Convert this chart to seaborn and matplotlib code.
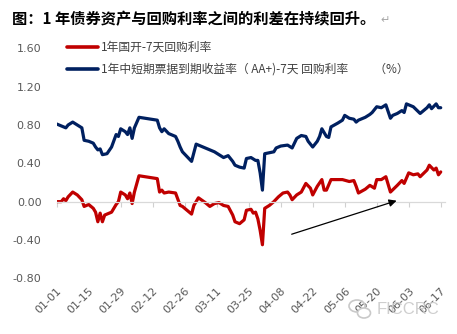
import matplotlib
matplotlib.use("Agg")
import matplotlib.pyplot as plt
import matplotlib.dates as mdates
from matplotlib.patches import Ellipse
import pandas as pd
import seaborn as sns

YEAR = 2016

# 1年国开 - 7天回购 spread (%)
red_dates = [
    "01-01", "01-03", "01-04", "01-05", "01-06", "01-08", "01-10", "01-12", "01-13", "01-15",
    "01-17", "01-18", "01-19", "01-20", "01-21", "01-22", "01-23", "01-25", "01-27", "01-28",
    "01-29", "01-31", "02-01", "02-02", "02-03", "02-04", "02-06", "02-14", "02-15", "02-16",
    "02-17", "02-19", "02-22", "02-24", "02-25", "02-27", "02-29", "03-01", "03-03", "03-06",
    "03-08", "03-10", "03-12", "03-14", "03-16", "03-18", "03-19", "03-21", "03-23", "03-24",
    "03-26", "03-27", "03-28", "03-29", "03-30", "03-31", "04-01", "04-03", "04-05", "04-07",
    "04-09", "04-11", "04-12", "04-13", "04-15", "04-17", "04-19", "04-21", "04-22", "04-24",
    "04-26", "04-27", "04-28", "04-30", "05-03", "05-05", "05-08", "05-10", "05-11", "05-12",
    "05-15", "05-17", "05-19", "05-20", "05-22", "05-24", "05-26", "05-29", "05-31", "06-01",
    "06-03", "06-05", "06-07", "06-08", "06-11", "06-12", "06-14", "06-15", "06-16", "06-17",
]
red_values = [
    0.00, 0.00, 0.03, 0.01, 0.05, 0.10, 0.07, 0.02, -0.05, -0.03,
    -0.07, -0.11, -0.21, -0.12, -0.21, -0.14, -0.13, -0.11, -0.03, 0.00,
    0.10, 0.07, 0.03, 0.09, -0.02, 0.10, 0.27, 0.24, 0.10, 0.12,
    0.09, 0.10, 0.09, -0.04, -0.05, -0.09, -0.13, -0.04, 0.04, -0.01,
    -0.05, -0.02, -0.01, -0.04, -0.05, -0.14, -0.21, -0.23, -0.19, -0.09,
    -0.08, -0.12, -0.11, -0.18, -0.30, -0.45, -0.07, -0.04, 0.00, 0.05,
    0.09, 0.10, 0.07, 0.02, 0.07, 0.10, 0.19, 0.14, 0.07, 0.16,
    0.23, 0.12, 0.12, 0.23, 0.23, 0.23, 0.21, 0.22, 0.16, 0.09,
    0.13, 0.17, 0.14, 0.23, 0.23, 0.26, 0.10, 0.17, 0.22, 0.19,
    0.30, 0.28, 0.29, 0.26, 0.33, 0.38, 0.33, 0.35, 0.28, 0.31,
]

# 1年中短期票据(AA+)到期收益率 - 7天回购 spread (%)
blue_dates = [
    "01-01", "01-03", "01-05", "01-06", "01-08", "01-10", "01-12", "01-13", "01-15", "01-17",
    "01-18", "01-19", "01-20", "01-21", "01-23", "01-25", "01-27", "01-28", "01-29", "01-31",
    "02-01", "02-02", "02-03", "02-04", "02-06", "02-14", "02-15", "02-16", "02-17", "02-19",
    "02-20", "02-22", "02-23", "02-24", "02-25", "02-27", "02-29", "03-02", "03-04", "03-06",
    "03-08", "03-10", "03-12", "03-14", "03-16", "03-18", "03-19", "03-21", "03-23", "03-24",
    "03-26", "03-28", "03-29", "03-30", "03-31", "04-01", "04-03", "04-05", "04-06", "04-08",
    "04-11", "04-13", "04-15", "04-17", "04-19", "04-20", "04-22", "04-24", "04-25", "04-26",
    "04-28", "04-29", "04-30", "05-03", "05-05", "05-06", "05-08", "05-10", "05-11", "05-12",
    "05-15", "05-17", "05-18", "05-20", "05-22", "05-24", "05-26", "05-27", "05-29", "05-31",
    "06-01", "06-02", "06-05", "06-08", "06-11", "06-12", "06-13", "06-15", "06-16", "06-17",
]
blue_values = [
    0.81, 0.79, 0.77, 0.80, 0.83, 0.80, 0.77, 0.64, 0.63, 0.61,
    0.57, 0.54, 0.55, 0.49, 0.50, 0.57, 0.70, 0.68, 0.76, 0.73,
    0.70, 0.77, 0.66, 0.77, 0.88, 0.85, 0.77, 0.73, 0.76, 0.71,
    0.70, 0.68, 0.63, 0.57, 0.52, 0.47, 0.42, 0.60, 0.58, 0.56,
    0.54, 0.52, 0.49, 0.46, 0.48, 0.42, 0.38, 0.36, 0.35, 0.45,
    0.46, 0.43, 0.43, 0.30, 0.12, 0.50, 0.51, 0.52, 0.56, 0.58,
    0.59, 0.56, 0.66, 0.69, 0.68, 0.63, 0.57, 0.63, 0.68, 0.76,
    0.68, 0.67, 0.78, 0.82, 0.85, 0.90, 0.87, 0.86, 0.83, 0.85,
    0.88, 0.91, 0.93, 0.99, 0.98, 1.01, 0.87, 0.90, 0.92, 0.95,
    0.93, 1.02, 0.99, 0.92, 0.98, 1.01, 0.97, 1.02, 0.98, 0.98,
]

tick_labels = ["01-01", "01-15", "01-29", "02-12", "02-26", "03-11", "03-25",
               "04-08", "04-22", "05-06", "05-20", "06-03", "06-17"]
y_ticks = [-0.80, -0.40, 0.00, 0.40, 0.80, 1.20, 1.60]

series_names = ["1年国开-7天回购利率", "1年中短期票据到期收益率（ AA+)-7天 回购利率　　 （%）"]
series_colors = ["#C00000", "#002060"]
title_text = "图：1 年债券资产与回购利率之间的利差在持续回升。"


def to_dates(month_days):
    return pd.to_datetime([f"{YEAR}-{md}" for md in month_days])


df = pd.concat([
    pd.DataFrame({"date": to_dates(red_dates), "value": red_values, "series": series_names[0]}),
    pd.DataFrame({"date": to_dates(blue_dates), "value": blue_values, "series": series_names[1]}),
], ignore_index=True)

sns.set_theme(style="white")
plt.rcParams["font.family"] = ["Noto Sans CJK SC", "DejaVu Sans"]
plt.rcParams["axes.unicode_minus"] = False

W, H = 457, 334
fig = plt.figure(figsize=(W / 100, H / 100), dpi=100)
fig.patch.set_facecolor("white")

x0 = pd.Timestamp(f"{YEAR}-01-01")
ax = fig.add_axes([56.7 / W, 1 - 278.3 / H, (445.3 - 56.7) / W, (278.3 - 48.3) / H])
ax.set_facecolor("white")

sns.lineplot(data=df, x="date", y="value", hue="series", hue_order=series_names,
             palette=series_colors, linewidth=2.3, estimator=None, sort=False,
             ax=ax, legend=True)

# axes ranges and y ticks
ax.set_ylim(y_ticks[0], y_ticks[-1])
ax.set_yticks(y_ticks)
ax.set_yticklabels([f"{v:.2f}" for v in y_ticks])
ax.set_xlim(x0, x0 + pd.Timedelta(days=170))
ax.set_xlabel("")
ax.set_ylabel("")
ax.grid(False)
for side in ("left", "right", "top"):
    ax.spines[side].set_visible(False)

# category axis crosses at zero: light line with tick marks, labels kept at the bottom
tick_dates = to_dates(tick_labels)
tick_pos = mdates.date2num(tick_dates)
ax.spines["bottom"].set_position(("data", 0))
ax.spines["bottom"].set_color("#d9d9d9")
ax.spines["bottom"].set_linewidth(0.9)
ax.set_xticks(tick_pos)
ax.tick_params(axis="x", length=3.5, width=0.8, color="#d0d0d0", direction="out",
               labelbottom=False, bottom=True)
ax.tick_params(axis="y", length=0, pad=11, labelsize=8, labelcolor="#595959")
for lab in ax.get_yticklabels():
    lab.set_family(["DejaVu Sans"])

sec = ax.secondary_xaxis("bottom")
sec.set_xticks(tick_pos)
sec.set_xticklabels(tick_labels)
sec.tick_params(axis="x", length=0, pad=5, labelsize=8, labelcolor="#595959")
sec.spines["bottom"].set_visible(False)
for lab in sec.get_xticklabels():
    lab.set_rotation(45)
    lab.set_ha("right")
    lab.set_va("top")
    lab.set_rotation_mode("anchor")
    lab.set_family(["DejaVu Sans"])

# legend in the upper-left of the plot area
handles, labels = ax.get_legend_handles_labels()
leg = ax.legend(handles, labels, loc="upper left",
                bbox_to_anchor=(67 / W, 1 - 41 / H), bbox_transform=fig.transFigure,
                frameon=False, fontsize=8.5, handlelength=2.6, handletextpad=0.25,
                labelspacing=0.75, borderpad=0, borderaxespad=0)
for t in leg.get_texts():
    t.set_color("#404040")
for lh in leg.get_lines():
    lh.set_linewidth(2.6)

# trend arrow under the red series
ax.annotate("", xy=(x0 + pd.Timedelta(days=148.7), 0.01),
            xytext=(x0 + pd.Timedelta(days=102.8), -0.34),
            arrowprops=dict(arrowstyle="-|>", color="black", lw=0.9,
                            mutation_scale=11, shrinkA=0, shrinkB=0))

# title with a paragraph mark
title = fig.text(12 / W, 1 - 19 / H, title_text, fontsize=11, fontweight="bold",
                 color="black", va="center", ha="left")
ax.annotate("↵", xy=(1, 0.45), xycoords=title, xytext=(4, 0), textcoords="offset points",
            va="center", ha="left", fontsize=8, color="#a6a6a6",
            family=["DejaVu Sans"], annotation_clip=False)

# watermark
wm_color = "#c9c9c9"
fig.text(377 / W, 1 - 309 / H, "FICCRC", fontsize=12, color=wm_color,
         family=["Liberation Sans"], va="center", ha="left", alpha=0.9)
fig.add_artist(Ellipse((357 / W, 1 - 306 / H), 16 / W, 12 / H, transform=fig.transFigure,
                       fill=False, edgecolor=wm_color, lw=1.2))
fig.add_artist(Ellipse((364 / W, 1 - 313 / H), 13 / W, 10 / H, transform=fig.transFigure,
                       fill=True, facecolor="white", edgecolor=wm_color, lw=1.2))

fig.savefig("out.png", dpi=100, facecolor="white")
